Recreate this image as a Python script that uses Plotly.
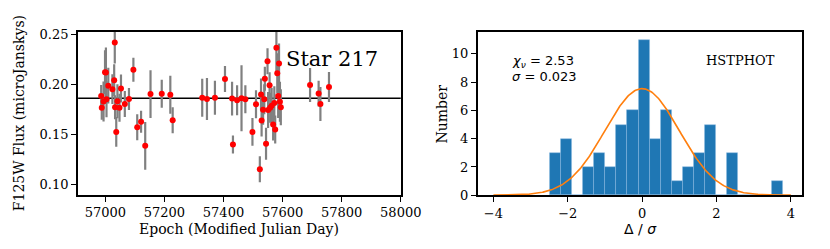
import numpy as np
import plotly.graph_objects as go

# ---------------- Data: light curve (left panel) ----------------
epoch_mjd = [56986, 56988, 56994, 56999, 57002, 57004, 57010, 57024, 57030, 57032,
             57033, 57037, 57041, 57048, 57053, 57066, 57080, 57095, 57108, 57121,
             57135, 57153, 57191, 57220, 57228, 57328, 57344, 57371, 57405, 57429,
             57432, 57446, 57461, 57474, 57498, 57510, 57523, 57527, 57529, 57534,
             57538, 57540, 57544, 57549, 57551, 57556, 57558, 57563, 57568, 57572,
             57575, 57579, 57582, 57585, 57588, 57591, 57594, 57693, 57722, 57728,
             57757]
flux = [0.1888, 0.1770, 0.1833, 0.2126, 0.2124, 0.1855, 0.1992, 0.1957, 0.2046, 0.2424,
        0.1776, 0.1529, 0.1836, 0.1770, 0.1964, 0.1808, 0.1859, 0.2150, 0.1576, 0.1630,
        0.1389, 0.1907, 0.1910, 0.1900, 0.1646, 0.1871, 0.1859, 0.1871, 0.2059, 0.1862,
        0.1402, 0.1846, 0.1865, 0.1855, 0.1529, 0.1805, 0.1154, 0.1903, 0.1643, 0.1750,
        0.1855, 0.2062, 0.1411, 0.2236, 0.1748, 0.1995, 0.1771, 0.1790, 0.1602, 0.1817,
        0.1554, 0.2370, 0.2116, 0.1888, 0.2214, 0.1830, 0.1776, 0.1998, 0.1912, 0.1808,
        0.1979]
flux_err = [0.011, 0.012, 0.020, 0.022, 0.025, 0.018, 0.018, 0.015, 0.016, 0.021,
            0.012, 0.015, 0.017, 0.014, 0.014, 0.013, 0.011, 0.012, 0.013, 0.011,
            0.024, 0.024, 0.014, 0.019, 0.013, 0.019, 0.021, 0.017, 0.013, 0.017,
            0.009, 0.015, 0.033, 0.014, 0.014, 0.014, 0.013, 0.016, 0.016, 0.015,
            0.015, 0.012, 0.016, 0.013, 0.018, 0.013, 0.015, 0.018, 0.016, 0.017,
            0.014, 0.025, 0.020, 0.022, 0.020, 0.020, 0.018, 0.017, 0.013, 0.017,
            0.015]
mean_flux = 0.1865
star_label = "Star 217"

# ---------------- Data: residual histogram (right panel) ----------------
hist_first_edge = -2.49
hist_bin_width = 0.2986
hist_counts = [3, 4, 0, 2, 3, 2, 5, 6, 11, 4, 6, 1, 2, 3, 5, 0, 3, 0, 0, 0, 1]
gauss_amp = 7.54
gauss_mu = 0.0
gauss_sigma = 1.0
chi_nu = "2.53"
sigma_val = "0.023"
method_label = "HSTPHOT"

SERIF = "DejaVu Serif"
SANS = "DejaVu Sans"

fig = go.Figure()

# horizontal mean line (under the points)
fig.add_shape(type="line", xref="x domain", yref="y", x0=0, x1=1,
              y0=mean_flux, y1=mean_flux, line=dict(color="black", width=1.5),
              layer="below")

fig.add_trace(go.Scatter(
    x=epoch_mjd, y=flux, mode="markers",
    marker=dict(color="red", size=6),
    error_y=dict(type="data", array=flux_err, visible=True,
                 color="#808080", thickness=2.2, width=0),
    xaxis="x", yaxis="y", showlegend=False, cliponaxis=True))

centers = [hist_first_edge + hist_bin_width * (i + 0.5) for i in range(len(hist_counts))]
fig.add_trace(go.Bar(
    x=centers, y=hist_counts, width=hist_bin_width,
    marker=dict(color="#1f77b4", line=dict(color="#8bb9e0", width=0.5)),
    xaxis="x2", yaxis="y2", showlegend=False))

gx = np.linspace(-4, 4, 300)
gy = gauss_amp * np.exp(-0.5 * ((gx - gauss_mu) / gauss_sigma) ** 2)
fig.add_trace(go.Scatter(
    x=gx, y=gy, mode="lines", line=dict(color="#ff7f0e", width=1.6),
    xaxis="x2", yaxis="y2", showlegend=False))

axis_common = dict(showline=True, mirror=True, linecolor="black", linewidth=2,
                   ticks="outside", ticklen=5, tickwidth=1, tickcolor="black",
                   showgrid=False, zeroline=False,
                   tickfont=dict(family=SERIF, size=13, color="black"))

fig.update_layout(
    width=830, height=249,
    margin=dict(l=0, r=0, t=0, b=0),
    paper_bgcolor="white", plot_bgcolor="white",
    bargap=0,
    xaxis=dict(domain=[0.0867, 0.4855], range=[56908, 58000],
               tickvals=[57000, 57200, 57400, 57600, 57800, 58000],
               tickformat="d", **axis_common),
    yaxis=dict(domain=[0.229, 0.9157], range=[0.09, 0.2529],
               tickvals=[0.10, 0.15, 0.20, 0.25], tickformat=".2f", **axis_common),
    xaxis2=dict(domain=[0.5807, 0.9819], range=[-4.42, 4.31], anchor="y2",
                tickvals=[-4, -2, 0, 2, 4], **axis_common),
    yaxis2=dict(domain=[0.227, 0.9157], range=[0, 11.55], anchor="x2",
                tickvals=[0, 2, 4, 6, 8, 10], **axis_common),
)

ann = []
ann.append(dict(text="F125W Flux (microJanskys)", x=0.0145, y=0.572, xref="paper", yref="paper",
                textangle=-90, showarrow=False, xanchor="center", yanchor="middle",
                font=dict(family=SERIF, size=14, color="black")))
ann.append(dict(text="Epoch (Modified Julian Day)", x=237.5 / 830, y=1 - 228 / 249,
                xref="paper", yref="paper", showarrow=False, xanchor="center", yanchor="middle",
                font=dict(family=SERIF, size=14, color="black")))
ann.append(dict(text=star_label, x=332 / 830, y=1 - 49 / 249, xref="paper", yref="paper",
                showarrow=False, xanchor="center", yanchor="middle",
                font=dict(family=SERIF, size=21, color="black")))
ann.append(dict(text="Number", x=445 / 830, y=1 - 107 / 249, xref="paper", yref="paper",
                textangle=-90, showarrow=False, xanchor="center", yanchor="middle",
                font=dict(family=SERIF, size=14, color="black")))
ann.append(dict(text="Δ / <i>σ</i>", x=649 / 830, y=1 - 228 / 249, xref="paper", yref="paper",
                showarrow=False, xanchor="center", yanchor="middle",
                font=dict(family=SANS, size=14, color="black")))
ann.append(dict(text="<i>χ</i><sub><i>ν</i></sub> = " + chi_nu, x=515 / 830, y=1 - 52 / 249,
                xref="paper", yref="paper", showarrow=False, xanchor="left", yanchor="middle",
                font=dict(family=SANS, size=13, color="black")))
ann.append(dict(text="<i>σ</i> = " + sigma_val, x=515 / 830, y=1 - 68 / 249,
                xref="paper", yref="paper", showarrow=False, xanchor="left", yanchor="middle",
                font=dict(family=SANS, size=13, color="black")))
ann.append(dict(text=method_label, x=752 / 830, y=1 - 51 / 249, xref="paper", yref="paper",
                showarrow=False, xanchor="center", yanchor="middle",
                font=dict(family=SERIF, size=13, color="black")))
fig.update_layout(annotations=ann)

fig.write_html("out.html")
